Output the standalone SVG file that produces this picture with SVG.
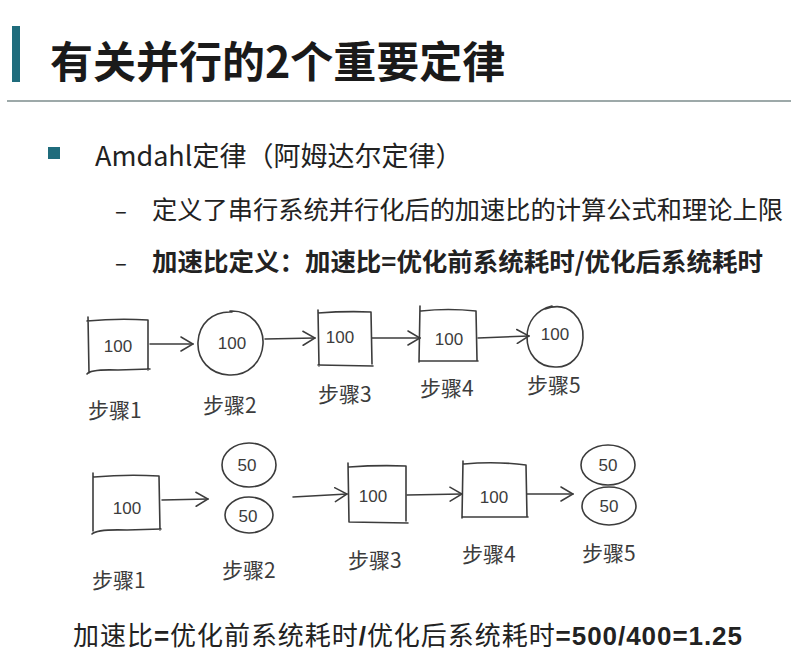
<svg xmlns="http://www.w3.org/2000/svg" width="791" height="660" viewBox="0 0 791 660">
<defs>
<style>
.title{font-family:"Noto Sans CJK SC","Liberation Sans",sans-serif;font-weight:bold;font-size:43px;fill:#1a1a1a}
.body{font-family:"Noto Sans CJK SC","Liberation Sans",sans-serif;fill:#222}
.foot{font-family:"Liberation Sans","Noto Sans CJK SC",sans-serif;fill:#222}
.hand{fill:none;stroke:#3c3c3c;stroke-width:1.6;stroke-linecap:round;stroke-linejoin:round}
.num{font-family:"Liberation Sans","DejaVu Sans",sans-serif;font-size:17px;fill:#3c3c3c;text-anchor:middle}
.lbl{font-family:"Noto Sans CJK SC",sans-serif;font-size:21px;fill:#3c3c3c}
.conn{fill:none;stroke:#3c3c3c;stroke-width:1.5;stroke-linecap:round}
</style>
<marker id="arr" viewBox="0 0 14 16" refX="13" refY="8" markerWidth="14" markerHeight="16" markerUnits="userSpaceOnUse" orient="auto">
<path d="M1,1 L13,8 L1,15" fill="none" stroke="#3c3c3c" stroke-width="1.5" stroke-linecap="round"/>
</marker>
</defs>
<rect width="791" height="660" fill="#ffffff"/>

<g id="header">
<rect x="12" y="26" width="8" height="56" fill="#1f6c7c"/>
<text class="title" x="50" y="78">有关并行的2个重要定律</text>
<line x1="7" y1="101" x2="791" y2="101" stroke="#7d8c8c" stroke-width="1.5"/>
</g>

<g id="bullets">
<rect x="48" y="147" width="12" height="12" fill="#1f6c7c"/>
<text class="body" x="95" y="166" font-size="27">Amdahl定律（阿姆达尔定律）</text>
<text class="body" x="115" y="219" font-size="22">–</text>
<text class="body" x="152" y="219" font-size="25" textLength="631" lengthAdjust="spacingAndGlyphs">定义了串行系统并行化后的加速比的计算公式和理论上限</text>
<text class="body" x="115" y="271" font-size="22">–</text>
<text class="body" x="152" y="271" font-size="25" font-weight="bold" textLength="611" lengthAdjust="spacingAndGlyphs">加速比定义：加速比=优化前系统耗时/优化后系统耗时</text>
</g>

<g id="row1-step1">
<path class="hand" d="M88,317 L89,373 M87,321 Q118,318 148,320 M148,320 L148,370 M87,374 Q90,369 118,370 L150,369"/>
<text class="num" x="118" y="352">100</text>
<text class="lbl" x="88" y="418">步骤1</text>
</g>
<g id="row1-step2">
<path class="hand" d="M230,311 C252,310 264,328 263,344 C262,362 248,376 229,375 C210,374 197,360 198,342 C199,324 212,311 232,312"/>
<text class="num" x="232" y="349">100</text>
<text class="lbl" x="203" y="413">步骤2</text>
</g>
<g id="row1-step3">
<path class="hand" d="M318,310 L319,366 M318,313 Q345,311 371,312 M371,312 L372,364 M318,365 L373,366"/>
<text class="num" x="340" y="343">100</text>
<text class="lbl" x="318" y="402">步骤3</text>
</g>
<g id="row1-step4">
<path class="hand" d="M420,306 L419,362 M421,311 Q448,308 476,311 M476,311 L477,360 M420,361 L478,361"/>
<text class="num" x="449" y="345">100</text>
<text class="lbl" x="420" y="396">步骤4</text>
</g>
<g id="row1-step5">
<path class="hand" d="M545,309 C570,300 584,320 583,338 C582,356 570,368 555,367 C538,367 527,354 527,337 C527,322 536,310 552,306"/>
<text class="num" x="555" y="340">100</text>
<text class="lbl" x="527" y="393">步骤5</text>
</g>

<g id="row2-step1">
<path class="hand" d="M93,473 L93,531 M94,477 Q127,474 159,476 M159,476 L160,530 M92,534 Q97,529 127,530 L161,529"/>
<text class="num" x="127" y="514">100</text>
<text class="lbl" x="92" y="588">步骤1</text>
</g>
<g id="row2-step2">
<ellipse class="hand" cx="249" cy="465" rx="27" ry="22"/>
<ellipse class="hand" cx="249" cy="515" rx="24" ry="18"/>
<text class="num" x="247" y="471">50</text>
<text class="num" x="248" y="522">50</text>
<text class="lbl" x="222" y="578">步骤2</text>
</g>
<g id="row2-step3">
<path class="hand" d="M348,463 L349,522 M349,467 Q377,465 406,466 M406,466 L406,521 M349,522 L408,523"/>
<text class="num" x="373" y="502">100</text>
<text class="lbl" x="348" y="568">步骤3</text>
</g>
<g id="row2-step4">
<path class="hand" d="M463,461 L462,518 M464,464 Q495,461 526,465 M526,465 L527,517 M463,517 L528,517"/>
<text class="num" x="494" y="503">100</text>
<text class="lbl" x="462" y="562">步骤4</text>
</g>
<g id="row2-step5">
<ellipse class="hand" cx="608" cy="465" rx="27" ry="20"/>
<ellipse class="hand" cx="609" cy="506" rx="27" ry="19"/>
<text class="num" x="608" y="471">50</text>
<text class="num" x="609" y="512">50</text>
<text class="lbl" x="582" y="561">步骤5</text>
</g>

<g id="connectors">
<path class="conn" d="M150,344 L193,344" marker-end="url(#arr)"/>
<path class="conn" d="M265,339 L315,338" marker-end="url(#arr)"/>
<path class="conn" d="M372,338 L420,338" marker-end="url(#arr)"/>
<path class="conn" d="M478,338 L529,336" marker-end="url(#arr)"/>
<path class="conn" d="M162,500 L208,499" marker-end="url(#arr)"/>
<path class="conn" d="M293,497 L347,494" marker-end="url(#arr)"/>
<path class="conn" d="M407,495 L462,494" marker-end="url(#arr)"/>
<path class="conn" d="M527,494 L573,494" marker-end="url(#arr)"/>
</g>

<g id="footer">
<text class="foot" x="73" y="645" font-size="26" textLength="669">加速比<tspan font-weight="bold">=</tspan>优化前系统耗时<tspan font-weight="bold">/</tspan>优化后系统耗时<tspan font-weight="bold">=500/400=1.25</tspan></text>
</g>
</svg>
